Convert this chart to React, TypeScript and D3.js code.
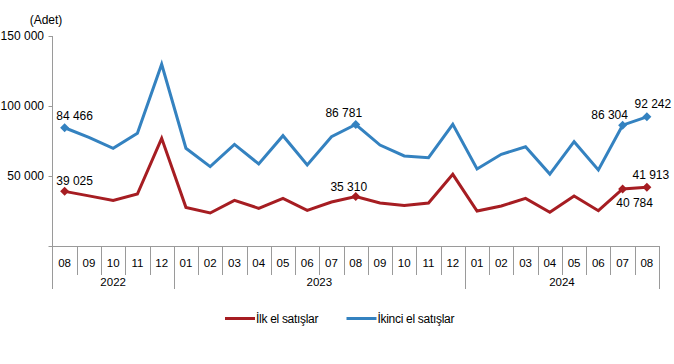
import React from "react";
import * as d3 from "d3";

const months = ["08","09","10","11","12","01","02","03","04","05","06","07","08","09","10","11","12","01","02","03","04","05","06","07","08"];
const years = [
  { label: "2022", start: 0, end: 5 },
  { label: "2023", start: 5, end: 17 },
  { label: "2024", start: 17, end: 25 },
];
const firstHand = [39025,35800,32600,37100,76900,27600,23600,32600,26900,34000,25500,31400,35310,30700,29000,30700,51200,25000,28600,34000,24100,35700,25200,40784,41913];
const secondHand = [84466,77600,69800,80500,129800,69800,56700,72600,58600,78800,57900,78100,86781,72100,64300,63100,86900,55000,65500,70900,51400,74500,54300,86304,92242];
const yTicks = [50000, 100000, 150000];
const seriesNames = ["İlk el satışlar", "İkinci el satışlar"];
const colors = ["#A61D22", "#3482C0"];
const markedIdx = [0, 12, 23, 24];
// label placement offsets (dx, dy) relative to point
const labelOffsets: Record<string, [number, number]> = {
  "0-0": [10, -11], "0-12": [-7, -10], "0-23": [12, 14], "0-24": [4, -13],
  "1-0": [10, -12], "1-12": [-12, -12], "1-23": [-13, -10], "1-24": [6, -13],
};

const fmt = (v: number) => d3.format(",")(v).replace(/,/g, " ");

export default function App() {
  const W = 674, H = 364;
  const x = d3.scaleBand<number>().domain(months.map((_, i) => i)).range([52.5, 659]);
  const y = d3.scaleLinear().domain([0, 150000]).range([246, 36]);
  const cx = (i: number) => (x(i) as number) + x.bandwidth() / 2;
  const line = d3.line<number>().x((_, i) => cx(i)).y((d) => y(d));
  const series = [firstHand, secondHand];
  const font = "'Liberation Sans', Arial, sans-serif";
  const axisColor = "#9a9a9a";

  return (
    <svg width={W} height={H} style={{ position: "absolute", left: 0, top: 0, background: "#fff" }} fontFamily={font}>
      <text x={46} y={24} fontSize={12} textAnchor="middle">(Adet)</text>
      {/* y axis */}
      <line x1={52.5} x2={52.5} y1={y(150000)} y2={289} stroke={axisColor} />
      {[0, ...yTicks].map((t) => (
        <line key={t} x1={48.5} x2={52.5} y1={Math.round(y(t)) + 0.5} y2={Math.round(y(t)) + 0.5} stroke={axisColor} />
      ))}
      {yTicks.map((t) => (
        <text key={t} x={44} y={y(t)} dy="0.35em" fontSize={12} textAnchor="end">{fmt(t)}</text>
      ))}
      {/* x axis */}
      <line x1={52.5} x2={659} y1={246.5} y2={246.5} stroke={axisColor} />
      {months.map((m, i) => {
        const isYearEdge = years.some((yr) => yr.end === i + 1);
        const sx = Math.round((x(i) as number) + x.bandwidth()) + 0.5;
        return (
          <g key={i}>
            <line x1={sx} x2={sx} y1={246} y2={isYearEdge ? 289 : 275} stroke={axisColor} />
            <text x={cx(i)} y={263} dy="0.35em" fontSize={11.5} textAnchor="middle">{m}</text>
          </g>
        );
      })}
      {years.map((yr) => {
        const x0 = x(yr.start) as number;
        const x1 = (x(yr.end - 1) as number) + x.bandwidth();
        return (
          <text key={yr.label} x={(x0 + x1) / 2} y={282} dy="0.35em" fontSize={11.5} textAnchor="middle">{yr.label}</text>
        );
      })}
      {/* lines */}
      {series.map((s, si) => (
        <path key={si} d={line(s) || ""} fill="none" stroke={colors[si]} strokeWidth={3} strokeLinejoin="miter" />
      ))}
      {series.map((s, si) =>
        markedIdx.map((i) => {
          const px = cx(i), py = y(s[i]);
          const r = 4.5;
          return (
            <path key={si + "-" + i} d={`M${px},${py - r}L${px + r},${py}L${px},${py + r}L${px - r},${py}Z`} fill={colors[si]} />
          );
        })
      )}
      {series.map((s, si) =>
        markedIdx.map((i) => {
          const [dx, dy] = labelOffsets[si + "-" + i];
          return (
            <text key={"l" + si + "-" + i} x={cx(i) + dx} y={y(s[i]) + dy} dy="0.35em" fontSize={12} textAnchor="middle">{fmt(s[i])}</text>
          );
        })
      )}
      {/* legend */}
      {seriesNames.map((n, i) => {
        const lx = i === 0 ? 225 : 346.5;
        return (
          <g key={n}>
            <line x1={lx} x2={lx + 30} y1={318.5} y2={318.5} stroke={colors[i]} strokeWidth={3} />
            <text x={lx + 31} y={318.5} dy="0.35em" fontSize={12} letterSpacing={-0.3}>{n}</text>
          </g>
        );
      })}
    </svg>
  );
}
